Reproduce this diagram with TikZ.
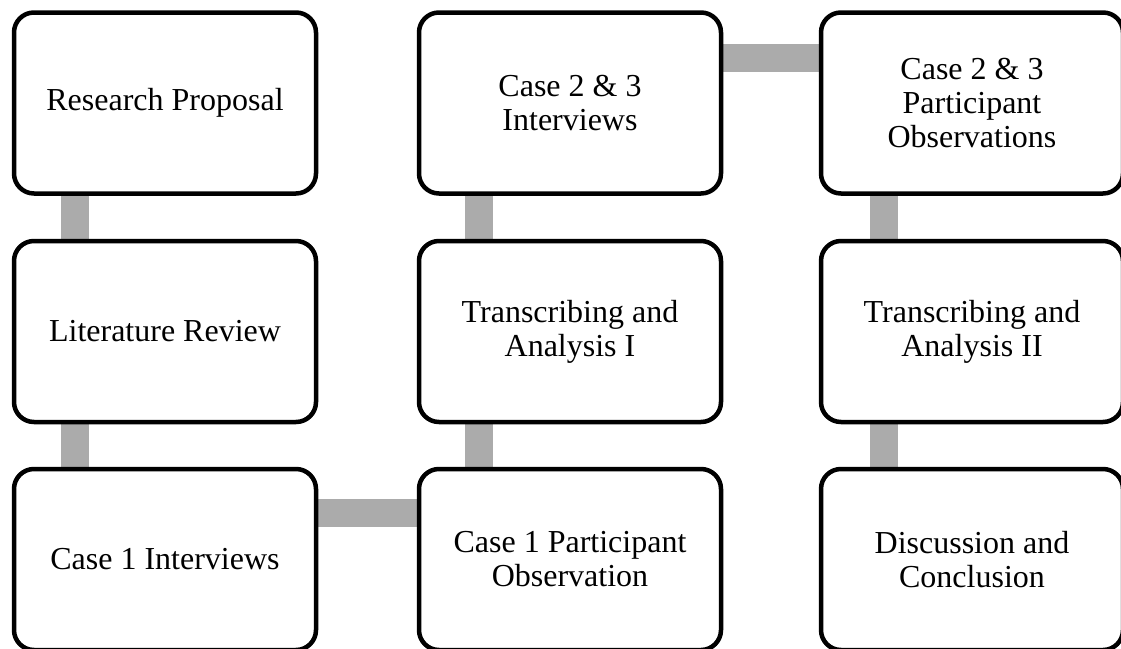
\documentclass[tikz,border=0pt]{standalone}
\usepackage{fontspec}
\setmainfont{Liberation Serif}
\usetikzlibrary{backgrounds}
\begin{document}
\begin{tikzpicture}[x=1pt,y=-1pt,
  stagebox/.style={draw=black, fill=white, line width=4.5pt, rounded corners=20pt,
    minimum width=302pt, minimum height=181pt, align=center, inner sep=0pt,
    font=\fontsize{32}{34}\selectfont},
  bar/.style={draw=black!33, line width=28pt, line cap=butt}]
  \useasboundingbox (0,0) rectangle (1121,648);
  % column 1
  \node[stagebox] (rp)  at (165,103)   {Research Proposal};
  \node[stagebox] (lr)  at (165,331.5) {Literature Review};
  \node[stagebox] (c1i) at (165,559.5) {Case 1 Interviews};
  % column 2
  \node[stagebox] (c1o) at (570,559.5) {Case 1 Participant\\Observation};
  \node[stagebox] (ta1) at (570,331.5) {Transcribing and\\Analysis I};
  \node[stagebox] (c2i) at (570,103)   {Case 2 \& 3\\Interviews};
  % column 3
  \node[stagebox] (c2o) at (972,103)   {Case 2 \& 3\\Participant\\Observations};
  \node[stagebox] (ta2) at (972,331.5) {Transcribing and\\Analysis II};
  \node[stagebox] (dc)  at (972,559.5) {Discussion and\\Conclusion};
  % connecting bars behind the boxes
  \begin{scope}[on background layer]
    \draw[bar] ([xshift=-90pt]rp.south)  -- ([xshift=-90pt]lr.north);
    \draw[bar] ([xshift=-90pt]lr.south)  -- ([xshift=-90pt]c1i.north);
    \draw[bar] ([yshift=46.5pt]c1i.east) -- ([yshift=46.5pt]c1o.west);
    \draw[bar] ([xshift=-91pt]c1o.north) -- ([xshift=-91pt]ta1.south);
    \draw[bar] ([xshift=-91pt]ta1.north) -- ([xshift=-91pt]c2i.south);
    \draw[bar] ([yshift=45.5pt]c2i.east) -- ([yshift=45.5pt]c2o.west);
    \draw[bar] ([xshift=-88pt]c2o.south) -- ([xshift=-88pt]ta2.north);
    \draw[bar] ([xshift=-88pt]ta2.south) -- ([xshift=-88pt]dc.north);
  \end{scope}
\end{tikzpicture}
\end{document}
